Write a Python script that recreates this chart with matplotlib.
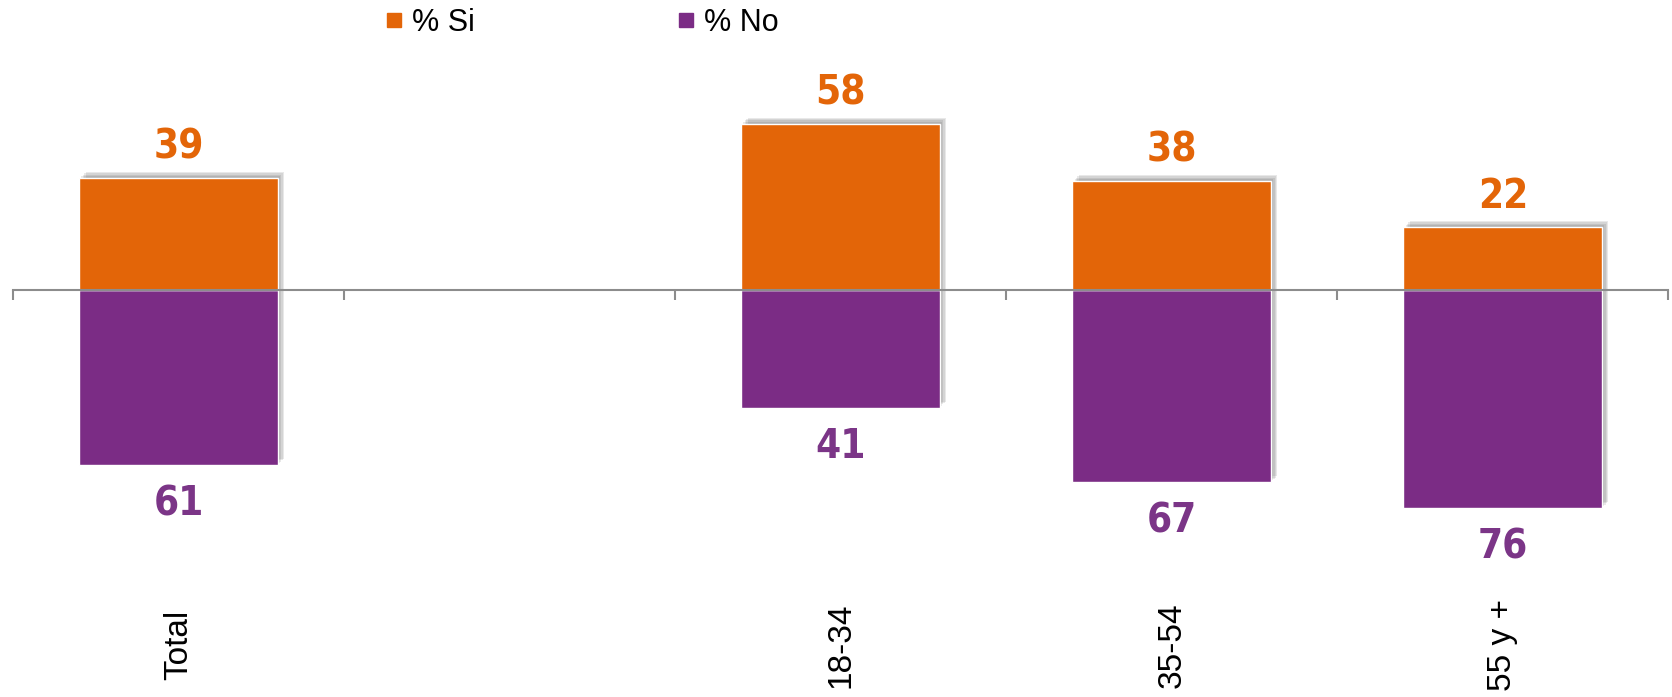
# diverging bars: % Si above the axis, % No below, by age group
import numpy as np
import matplotlib.pyplot as plt
import matplotlib.patheffects as pe
from matplotlib.lines import Line2D

categories = ['Total', '', '18-34', '35-54', '55 y +']
si = [39, None, 58, 38, 22]
no = [61, None, 41, 67, 76]

orange = '#E36508'
purple = '#7B2C85'
grey = '#8C8C8C'

fig = plt.figure(figsize=(16.72, 6.97), dpi=100)
ax = fig.add_axes([0.0078, 0.172, 0.990, 0.741])

shadow = [pe.SimplePatchShadow(offset=(o, o), shadow_rgbFace='#444444', alpha=0.12)
          for o in (1.5, 2.5, 3.5, 4.5)] + [pe.Normal()]

pos = [i for i, v in enumerate(si) if v is not None]
si_vals = [si[i] for i in pos]
no_vals = [no[i] for i in pos]

bars_no = ax.bar(pos, [-v for v in no_vals], 0.6, color=purple, edgecolor='white',
                 linewidth=1, zorder=1)
bars_si = ax.bar(pos, si_vals, 0.6, color=orange, edgecolor='white',
                 linewidth=1, zorder=1.2)
for b in list(bars_no) + list(bars_si):
    b.set_path_effects(shadow)

valfont = dict(family=['Liberation Sans Narrow', 'DejaVu Sans'], stretch='condensed',
               weight='bold', size=29)
for p, v in zip(pos, si_vals):
    ax.annotate(str(v), (p, v), xytext=(0, 22), textcoords='offset points',
                ha='center', va='center', color=orange, **valfont)
for p, v in zip(pos, no_vals):
    ax.annotate(str(v), (p, -v), xytext=(0, -28), textcoords='offset points',
                ha='center', va='center', color='#7B3587', **valfont)

ax.set_xlim(-0.5, len(categories) - 0.5)
ax.set_ylim(-100, 80)
for s in ['top', 'right', 'left']:
    ax.spines[s].set_visible(False)
ax.spines['bottom'].set_position(('data', 0))
ax.spines['bottom'].set_color(grey)
ax.spines['bottom'].set_linewidth(1.5)
ax.spines['bottom'].set_zorder(3)
ax.set_yticks([])
ax.set_xticks(range(len(categories)))
ax.set_xticks(np.arange(-0.5, len(categories)), minor=True)
ax.tick_params(axis='x', which='major', length=0, labelbottom=False)
ax.tick_params(axis='x', which='minor', length=7, width=1.5, color=grey,
               direction='out', labelbottom=False)

for i, c in enumerate(categories):
    if c:
        ax.text(i, -0.132, c, transform=ax.get_xaxis_transform(), rotation=90,
                ha='center', va='center', fontsize=24, family='Liberation Sans')

handles = [Line2D([], [], marker='s', ls='', color=orange, markersize=10),
           Line2D([], [], marker='s', ls='', color=purple, markersize=10)]
fig.legend(handles, ['% Si', '% No'], loc='center', bbox_to_anchor=(0.348, 0.967),
           ncol=2, frameon=False, handlelength=0.6, handletextpad=0.3,
           columnspacing=6.6, prop=dict(family='Liberation Sans', size=22))

fig.savefig('out.png', dpi=100)
